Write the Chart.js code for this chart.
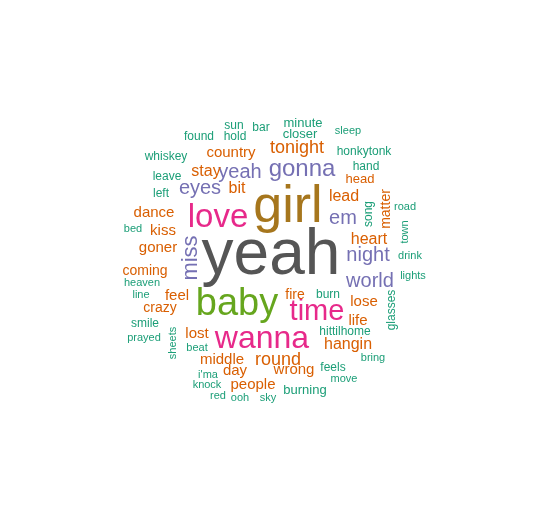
<!DOCTYPE html>
<html><head><meta charset="utf-8">
<script src="https://cdn.jsdelivr.net/npm/chart.js@4/dist/chart.umd.min.js"></script>
<style>html,body{margin:0;padding:0;background:#fff}#wrap{width:545px;height:518px}</style>
</head><body><div id="wrap"><canvas id="c"></canvas></div>
<script>
const words = ["yeah","girl","baby","wanna","love","time","gonna","miss","eyes","yeah","em","night","world",
"tonight","country","stay","bit","lead","heart","dance","kiss","goner","coming","feel","crazy","fire","lose","life","hangin","lost","middle","round","day","wrong","people","head","matter",
"sun","bar","minute","closer","sleep","found","hold","whiskey","honkytonk","hand","leave","left","bed","road","song","town","drink","lights","heaven","line","burn","glasses","smile","prayed","sheets","hittilhome","beat","bring","feels","i'ma","move","knock","red","ooh","sky","burning"];
const xs = [271,288,237,262,218,317,302,191,200,240,343,368,370,
297,231,206,237,344,369,154,163,158,145,177,160,295,364,358,348,197,222,278,235,294,253,360,386,
234,261,303,300,348,199,235,166,364,366,167,161,133,405,369,405,410,413,142,141,328,392,145,144,173,345,197,373,333,208,344,207,218,240,268,305];
const ys = [256,208,305,339,218,312,169,258,188,172,218,255,281,
148,153,172,189,197,240,213,231,248,271,296,308,295,302,321,345,334,360,360,371,370,385,179,209,
126,128,123,134,131,137,137,157,152,167,177,194,229,207,214,232,256,276,283,295,295,310,324,338,343,332,348,358,368,375,379,385,396,398,398,390];
const sizes = [64,52,38,32,33,29,24,22,20,20,20,20,20,
18,15,16,16,16,16,15,15,15,14,15,14,14,15,15,16,15,15,18,15,15,15,13,14,
12,12,13,13,11,12,12,12,12,12,12,12,11,11,12,11,11,11,11,11,12,12,12,11,11,12,11,11,12,11,11,11,11,11,11,13];
const colorIdx = [0,1,2,3,3,3,4,4,4,4,4,4,4,
5,5,5,5,5,5,5,5,5,5,5,5,5,5,5,5,5,5,5,5,5,5,5,5,
6,6,6,6,6,6,6,6,6,6,6,6,6,6,6,6,6,6,6,6,6,6,6,6,6,6,6,6,6,6,6,6,6,6,6,6];
const palette = ["#555555","#A6761D","#66A61E","#E7298A","#7570B3","#D95F02","#1B9E77"];
const rotated = ["miss","matter","song","town","glasses","sheets"];

const textPlugin = {
  id:'wc',
  afterDatasetsDraw(chart){
    const ctx=chart.ctx, xs_=chart.scales.x, ys_=chart.scales.y;
    chart.data.datasets[0].data.forEach((p,i)=>{
      const px=xs_.getPixelForValue(p.x), py=ys_.getPixelForValue(p.y);
      ctx.save();
      ctx.translate(px,py);
      if(rotated.includes(words[i]) && !(words[i]==="yeah")) ctx.rotate(-Math.PI/2);
      ctx.font = sizes[i]+'px "Liberation Sans", Arial, sans-serif';
      ctx.fillStyle = palette[colorIdx[i]];
      ctx.textAlign='center'; ctx.textBaseline='middle';
      ctx.fillText(words[i],0,0);
      ctx.restore();
    });
  }
};

new Chart(document.getElementById('c'),{
  type:'scatter',
  data:{datasets:[{data:words.map((w,i)=>({x:xs[i],y:ys[i]})),pointRadius:0}]},
  options:{
    responsive:true,maintainAspectRatio:false,animation:false,
    layout:{padding:0},
    plugins:{legend:{display:false},tooltip:{enabled:false}},
    scales:{
      x:{type:'linear',min:0,max:545,display:false},
      y:{type:'linear',min:0,max:518,reverse:true,display:false}
    }
  },
  plugins:[textPlugin]
});
</script></body></html>
